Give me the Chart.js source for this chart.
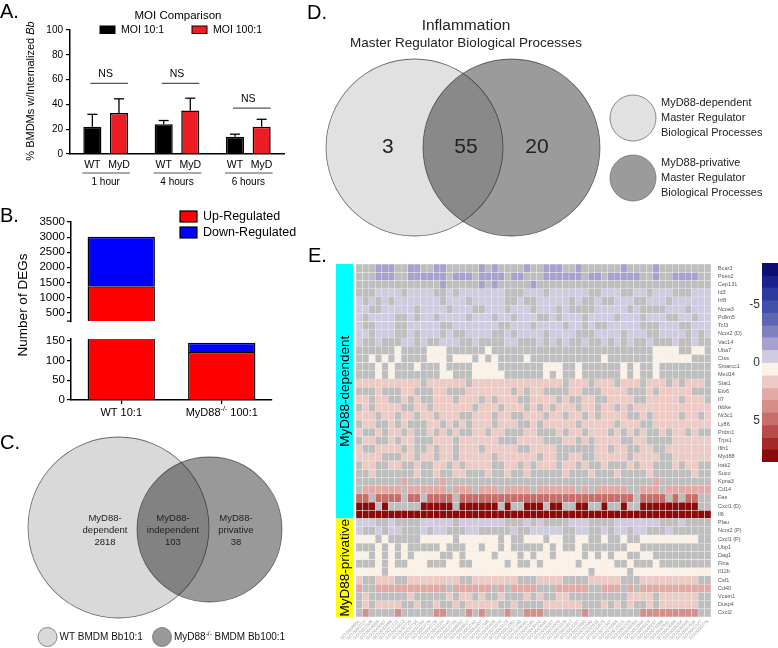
<!DOCTYPE html>
<html>
<head>
<meta charset="utf-8">
<title>MyD88 figure</title>
<script src="https://cdn.jsdelivr.net/npm/chart.js@4.4.1/dist/chart.umd.min.js"></script>
<style>
  html, body { margin: 0; padding: 0; background: #fff; overflow: hidden; }
  #fig { position: relative; width: 778px; height: 648px; overflow: hidden;
         font-family: 'Liberation Sans', Arial, sans-serif; color: #000; }
  #fig canvas { position: absolute; }
  .tag { position: absolute; font-size: 20px; line-height: 1; }
  .ytitle { position: absolute; white-space: nowrap; transform: translate(-50%, -50%) rotate(-90deg); }
</style>
</head>
<body>
<div id="fig">
  <canvas id="chartA" width="290" height="195" style="left:0;top:0"></canvas>
  <canvas id="chartBTop" width="300" height="140" style="left:0;top:190px"></canvas>
  <canvas id="chartBBottom" width="300" height="100" style="left:0;top:330px"></canvas>
  <canvas id="chartC" width="300" height="223" style="left:0;top:425px"></canvas>
  <canvas id="chartD" width="478" height="245" style="left:300px;top:0"></canvas>
  <canvas id="chartE" width="445" height="408" style="left:300px;top:240px"></canvas>
  <canvas id="chartScale" width="60" height="240" style="left:735px;top:240px"></canvas>
  <div class="tag" style="left:0;top:1px">A.</div>
  <div class="tag" style="left:0;top:205px">B.</div>
  <div class="tag" style="left:0;top:432px">C.</div>
  <div class="tag" style="left:307px;top:2px">D.</div>
  <div class="tag" style="left:308px;top:245px">E.</div>
  <div class="ytitle" style="left:22px;top:305px;font-size:13.5px">Number of DEGs</div>
</div>
<script>
// ---- A: internalisation ----
const timeGroups = ['1 hour', '4 hours', '6 hours'];
const strainLabels = ['WT', 'MyD'];
const moi10Mean = [22, 24, 14];
const moi10Err = [10, 3, 2];
const moi100Mean = [33, 35, 22];
const moi100Err = [11.5, 10, 6];
const nsLevel = [57, 57, 37];

// ---- B: DEG counts ----
const degGroups = ['WT 10:1', 'MyD88-/- 100:1'];
const upRegulated = [1375, 122];
const downRegulated = [1635, 23];
const degTicksUpper = [500, 1000, 1500, 2000, 2500, 3000, 3500];
const degTicksLower = [0, 50, 100, 150];

// ---- C: DEG venn ----
const vennCSets = ['WT BMDM Bb10:1', 'MyD88-/- BMDM Bb100:1'];
const vennCRegions = ['MyD88-dependent', 'MyD88-independent', 'MyD88-privative'];
const vennCCounts = [2818, 103, 38];

// ---- D: master regulator venn ----
const vennDTitle = ['Inflammation', 'Master Regulator Biological Processes'];
const vennDCounts = [3, 55, 20];
const vennDSets = [
  ['MyD88-dependent', 'Master Regulator', 'Biological Processes'],
  ['MyD88-privative', 'Master Regulator', 'Biological Processes']
];

// ---- E: heatmap ----
const genes = ['Bcar3', 'Psen2', 'Cep131', 'Id3', 'Irf8', 'Ncoa3', 'Pdlim5', 'Tcf3', 'Ncor2 (D)', 'Vac14',
  'Uba7', 'Ctss', 'Smarcc1', 'Med14', 'Stat1', 'Etv6', 'Il7', 'Ikbke', 'Nr3c1', 'Ly86', 'Prdm1', 'Trps1',
  'Ifih1', 'Myd88', 'Irak2', 'Suco', 'Kpna3', 'Cd14', 'Fas', 'Cxcl1 (D)', 'Il6',
  'Plau', 'Ncor2 (P)', 'Cxcl1 (P)', 'Ubp1', 'Dag1', 'Flna', 'Il12b', 'Csf1', 'Cd40', 'Vcam1', 'Dusp4', 'Cxcl2'];
const geneGroupNames = ['MyD88-dependent', 'MyD88-privative'];
const geneGroupSizes = [31, 12];
const goTerms = ['GO:0006954', 'GO:0050727', 'GO:0002526', 'GO:0006955', 'GO:0045087', 'GO:0032496',
  'GO:0071222', 'GO:0034612', 'GO:0032729', 'GO:0032755', 'GO:0032760', 'GO:0050729', 'GO:0050728',
  'GO:0002224', 'GO:0034142', 'GO:0002755', 'GO:0006952', 'GO:0009617', 'GO:0042742', 'GO:0051607',
  'GO:0071346', 'GO:0035458', 'GO:0070374', 'GO:0043123', 'GO:0051092', 'GO:0007249', 'GO:0038061',
  'GO:0000165', 'GO:0043410', 'GO:0045944', 'GO:0006357', 'GO:0010628', 'GO:0001819', 'GO:0001817',
  'GO:0002237', 'GO:0032680', 'GO:0032640', 'GO:0032635', 'GO:0032675', 'GO:0071347', 'GO:0070555',
  'GO:0019221', 'GO:0060326', 'GO:0030593', 'GO:0002544', 'GO:0090023', 'GO:0048247', 'GO:0070098',
  'GO:0042981', 'GO:0043066', 'GO:0008284', 'GO:0030335', 'GO:0001934', 'GO:0042127', 'GO:0050776'];
// one string per gene, one letter per GO term ('.' = not significant)
const cellRows = [
  '...bbb..bb' + '..bb.....b' + '.b....b..b' + 'bb..b.....' + '.b....b...' + '.....',
  '...bbb..bb' + 'bbbb.bbb.b' + 'bbb.bb...b' + 'bbbbb.bb.b' + 'bbbb..b..b' + 'bbb..',
  '..........' + '...b.....b' + '.b.....b..' + '..........' + '..........' + '.....',
  '...llll.ll' + 'll..l.llll' + 'lll...lll.' + 'llllll..ll' + 'l..ll.lll.' + '..lll',
  'l.l.l.llll' + 'lll.lll.ll' + 'lll..l..ll' + 'lll.l..l..' + 'lll..lll.l' + 'lllll',
  'll..lllll.' + 'llll.lll..' + 'lll.lll.ll' + 'l.l....lll' + 'll.l....ll' + 'l.lll',
  'l.llll..l.' + 'll.llll.ll' + 'l.ll.lll..' + 'l.lll.llll' + '.lll.lll..' + 'll.ll',
  'l..lll..ll' + 'lll..lllll' + 'll..lll.ll' + 'll.ll.l..l' + 'llll...lll' + '..lll',
  'll.lll..l.' + 'lll.l..lll' + 'l..l.llll.' + 'llll...lll' + 'l.lll..lll' + 'l.l.l',
  'l..l...ll.' + 'l..lll..l.' + '...ll...l.' + 'l.l..l..l.' + 'l.l..l...l' + '..l..',
  '......c...' + '.ccc......' + 'c.........' + '..........' + '......cccc' + '..cc.',
  '..c.c.c...' + '.ccc.ccc.c' + '.c....c...' + '........c.' + '......cccc' + 'cc...',
  '...c.c...c' + '...c....cc' + 'cc.......c' + 'cc..c.....' + '.c.c..c...' + '.....',
  '...c.c....' + '...cc...cc' + 'ccc......c' + '.c..c.....' + '.c.c..c...' + '.....',
  'pppppppppp' + '.pppppp.pp' + 'pppppppppp' + 'pp.ppp.ppp' + '.ppp.ppp.p' + '.ppp.',
  '...p...pp.' + '..pp...ppp' + 'pppp.p.pp.' + '...pp...pp' + 'pp...p.ppp' + 'pp...',
  'pp.pp..p.p' + '..ppp.ppp.' + 'p.ppp..ppp' + 'p.p..pp..p' + 'ppp..ppppp' + '.ppp.',
  '.p.pppp..p' + 'p.pppppp.p' + 'pp.ppp.p.p' + '.ppp.pp.pp' + '.p.ppppppp' + 'ppppp',
  'ppp.pp.pp.' + 'pp.ppp..pp' + 'p.pp..ppp.' + 'pp.pp.p.pp' + 'pp..p.pppp' + '.pp.p',
  '.pp..p.p..' + '.pp.p.p.pp' + 'p.ppp..p.p' + 'pppp.ppppp' + '.ppp..pppp' + 'ppppp',
  'p..p.pp.p.' + '.p.p.p..pp' + '.pp...pp..' + '.p.pp.ppp.' + 'p.p.p..p.p' + 'p.p..',
  '.pp..p.pp.' + '..ppp.pppp' + 'pp...pppp.' + '..pp.p.ppp' + 'p..pp....p' + 'ppppp',
  'p..pppp.p.' + '.p.pp.ppp.' + 'ppppp..ppp' + 'p......pp.' + 'pp..pp..pp' + 'ppppp',
  'pppp...pp.' + 'pp.pp.pppp' + 'p.pppppp.p' + 'p..pp..ppp' + 'pp.pppp..p' + 'ppppp',
  '.pp..pp..p' + '..pp.p.ppp' + 'p..pp.p.pp' + 'p.pp.p..p.' + '..p.pp...p' + '.pp..',
  '..p......p' + '..p..pp...' + 'p..p..p...' + '..p...p...' + 'p....p....' + '..p..',
  '.......q..' + '...q......' + '..........' + '..........' + '......q...' + '.....',
  '.qqqqqq.qq' + 'qqqq.qqq.q' + 'qq.qqqq.qq' + 'qqqq.q.qqq' + 'qq..qqq.qq' + 'qqqqq',
  'rr.rrrr.rr' + '.rrrr.rrrr' + 'rrrrrrrrrr' + 'rrrrrrrrrr' + 'rrr.rrrr.r' + '.rr..',
  'ddd.d.....' + 'ddddd.dddd' + 'dd.d..ddd.' + 'dd..dd..d.' + '.d..dddddd' + 'ddd..',
  'DDDDDDDDDD' + 'DDDDDDDDDD' + 'DDDDDDDDDD' + 'DDDDDDDDDD' + 'DDDDDDDDDD' + 'DDDDD',
  'lll..l....' + 'lllll.llll' + 'lll...l.l.' + '...lll....' + 'lllllll...' + 'l....',
  'l..l.ll...' + 'l.ll...ll.' + '....l..lll' + 'll..ll..l.' + 'll.ll...l.' + '.....',
  'ccc.c.....' + 'ccccc.cccc' + 'cc.c..ccc.' + 'cc..cc..c.' + '.c..cccccc' + 'ccc..',
  '...c.c.c..' + '...c...cc.' + 'cc.c.....c' + '.c..c.....' + '..cc......' + '.....',
  'cc.c.c.c.c' + 'ccc..c.ccc' + 'c.ccc.c.cc' + '.cccc.c.c.' + 'cc..cc....' + '.....',
  '...c.c..cc' + 'c...cc..cc' + 'ccc.c..c.c' + 'cccc.ccccc' + '..c...c...' + '.....',
  'cccc.ccccc' + 'cccccccccc' + 'cccccccccc' + 'cccccc.ccc' + 'cc.ccccccc' + 'ccccc',
  'p..ppp..pp' + 'pppppp..pp' + 'ppppp...pp' + 'pp....pppp' + 'p...pppppp' + 'ppp..',
  'q..qqqqqqq' + 'qqqq.qqqqq' + 'q.q.qqqq..' + '.qqqqq..qq' + 'q.q.qqqqqq' + 'qqqqq',
  '.p......p.' + '....p.pp.p' + '..p...p.p.' + '.pp.......' + '..pppp.ppp' + 'ppp..',
  '.p.pppp..p' + '..p..p.ppp' + 'pp..p....p' + 'ppppp...p.' + 'p.p..p.ppp' + 'ppp..',
  '.s....s...' + '..ss...s.s' + '...s..sss.' + '.....s....' + '....ssssss' + 'sss..'
];
// approximate fold-change read for each colour class
const levelOf = { b: -2, l: -0.5, c: 0.4, p: 1.5, q: 2.5, s: 3.5, r: 4.5, d: 7.8, D: 8.3 };
const scaleBreaks = [-8.6, -7.5, -6.5, -5.4, -4.3, -3.2, -2.2, -1.1, 0, 1.1, 2.2, 3.2, 4.3, 5.4, 6.5, 7.5, 8.6];
const scaleTicks = [-5, 0, 5];

// ---------------------------------------------------------------
const FAMILY = "'Liberation Sans', Arial, sans-serif";
Chart.defaults.font.family = FAMILY;
Chart.defaults.color = '#000';
Chart.defaults.animation = false;
Chart.defaults.responsive = false;
Chart.defaults.events = [];
Chart.defaults.plugins.legend.display = false;
Chart.defaults.plugins.tooltip.enabled = false;

const scaleColors = ['#0d0d73', '#1a2290', '#2b3a9e', '#4150a8', '#5f66b1', '#7f80bd', '#a6a2cf', '#d1cbe1',
  '#fbf1e6', '#eecac4', '#e2aaa5', '#d58e8a', '#c76e6b', '#b64d4b', '#a22b2a', '#8b0b0b'];
const naGray = '#bebebe';
const axisLine = { color: '#000', width: 1.5 };
const tickMarks = { drawOnChartArea: false, tickLength: 4, color: '#000', lineWidth: 1.2 };
const plainNumber = v => String(v);

function fixWidth(w) { return s => { s.width = w; }; }
function fixHeight(h) { return s => { s.height = h; }; }

function put(ctx, str, x, y, size, o) {
  o = o || {};
  ctx.save();
  ctx.font = (o.style ? o.style + ' ' : '') + size + 'px ' + FAMILY;
  ctx.fillStyle = o.color || '#000';
  ctx.textAlign = o.align || 'center';
  ctx.textBaseline = 'middle';
  ctx.fillText(str, x, y);
  ctx.restore();
}

// draws "-/-" as a superscript
function putSup(ctx, str, x, y, size, o) {
  o = o || {};
  const segs = [];
  str.split('-/-').forEach((p, i) => {
    if (i) segs.push({ t: '-/-', sup: true });
    if (p) segs.push({ t: p, sup: false });
  });
  ctx.save();
  ctx.fillStyle = o.color || '#000';
  ctx.textBaseline = 'middle';
  ctx.textAlign = 'left';
  let w = 0;
  segs.forEach(s => {
    ctx.font = (s.sup ? size * 0.65 : size) + 'px ' + FAMILY;
    s.w = ctx.measureText(s.t).width;
    w += s.w;
  });
  let cx = o.align === 'left' ? x : x - w / 2;
  segs.forEach(s => {
    ctx.font = (s.sup ? size * 0.65 : size) + 'px ' + FAMILY;
    ctx.fillText(s.t, cx, s.sup ? y - size * 0.32 : y);
    cx += s.w;
  });
  ctx.restore();
}

function line(ctx, x1, y1, x2, y2, color, width) {
  ctx.save();
  ctx.strokeStyle = color;
  ctx.lineWidth = width;
  ctx.beginPath();
  ctx.moveTo(x1, y1);
  ctx.lineTo(x2, y2);
  ctx.stroke();
  ctx.restore();
}

function disc(ctx, x, y, r, fill) {
  ctx.save();
  ctx.beginPath();
  ctx.arc(x, y, r, 0, Math.PI * 2);
  ctx.fillStyle = fill;
  ctx.fill();
  ctx.strokeStyle = '#6e6e6e';
  ctx.lineWidth = 0.8;
  ctx.stroke();
  ctx.restore();
}

// ---- A ----
const panelAExtras = {
  id: 'panelAExtras',
  afterDatasetsDraw(chart) {
    const ctx = chart.ctx, y = chart.scales.y, area = chart.chartArea;
    const metas = [chart.getDatasetMeta(0), chart.getDatasetMeta(1)];
    const errs = [moi10Err, moi100Err];
    chart.data.datasets.forEach((ds, i) => {
      metas[i].data.forEach((bar, j) => {
        const top = y.getPixelForValue(ds.data[j] + errs[i][j]);
        line(ctx, bar.x, bar.y, bar.x, top, '#000', 1.3);
        line(ctx, bar.x - 5, top, bar.x + 5, top, '#000', 1.3);
      });
    });
    timeGroups.forEach((g, j) => {
      const a = metas[0].data[j], b = metas[1].data[j];
      const ny = y.getPixelForValue(nsLevel[j]);
      line(ctx, a.x - 2, ny, b.x + 9, ny, '#555', 1.2);
      put(ctx, 'NS', (a.x + b.x) / 2, ny - 9, 10.5);
      put(ctx, strainLabels[0], a.x, area.bottom + 11, 10.5);
      put(ctx, strainLabels[1], b.x, area.bottom + 11, 10.5);
      const ly = area.bottom + 19;
      line(ctx, a.x - a.width / 2 - 1, ly, b.x + b.width / 2 + 2, ly, '#555', 1.2);
      put(ctx, g, (a.x + b.x) / 2, area.bottom + 28, 10);
    });
    // legend
    put(ctx, 'MOI Comparison', 178, 16, 11.5);
    const lx = [100, 192];
    chart.data.datasets.forEach((ds, i) => {
      ctx.save();
      ctx.fillStyle = ds.backgroundColor;
      ctx.fillRect(lx[i], 26, 15, 7.5);
      ctx.strokeStyle = '#000';
      ctx.lineWidth = 1;
      ctx.strokeRect(lx[i], 26, 15, 7.5);
      ctx.restore();
      put(ctx, ds.label, lx[i] + 21, 30, 10.5, { align: 'left' });
    });
    // y title with italic Bb
    ctx.save();
    ctx.translate(31, 91);
    ctx.rotate(-Math.PI / 2);
    ctx.textBaseline = 'middle';
    ctx.fillStyle = '#000';
    ctx.font = '11px ' + FAMILY;
    const t1 = '% BMDMs w/Internalized ';
    const w1 = ctx.measureText(t1).width;
    ctx.font = 'italic 11px ' + FAMILY;
    const w2 = ctx.measureText('Bb').width;
    ctx.font = '11px ' + FAMILY;
    ctx.fillText(t1, -(w1 + w2) / 2, 0);
    ctx.font = 'italic 11px ' + FAMILY;
    ctx.fillText('Bb', -(w1 + w2) / 2 + w1, 0);
    ctx.restore();
  }
};

new Chart(document.getElementById('chartA'), {
  type: 'bar',
  data: {
    labels: timeGroups,
    datasets: [
      { label: 'MOI 10:1', data: moi10Mean, backgroundColor: '#000000' },
      { label: 'MOI 100:1', data: moi100Mean, backgroundColor: '#ee1c24' }
    ]
  },
  options: {
    layout: { padding: { top: 30, right: 6, left: 0, bottom: 0 } },
    datasets: { bar: { borderColor: '#000', borderWidth: 1.5, categoryPercentage: 0.746, barPercentage: 0.68 } },
    scales: {
      x: { grid: { display: false }, ticks: { display: false }, border: axisLine, afterFit: fixHeight(41) },
      y: { min: 0, max: 100, ticks: { stepSize: 20, font: { size: 10 }, padding: 3, callback: plainNumber },
           grid: tickMarks, border: axisLine, afterFit: fixWidth(70) }
    }
  },
  plugins: [panelAExtras]
});

// ---- B ----
const degDatasets = () => [
  { label: 'Up-Regulated', data: upRegulated, backgroundColor: '#ff0000' },
  { label: 'Down-Regulated', data: downRegulated, backgroundColor: '#0000ff' }
];
const degBar = { borderColor: '#000', borderWidth: 1.5, categoryPercentage: 1, barPercentage: 0.67 };

const panelBTopExtras = {
  id: 'panelBTopExtras',
  afterDraw(chart) {
    const ctx = chart.ctx, area = chart.chartArea;
    line(ctx, area.left - 4, area.bottom, area.left, area.bottom, '#000', 1.2);
    chart.data.datasets.forEach((ds, i) => {
      const y0 = 21 + i * 16;
      ctx.save();
      ctx.fillStyle = ds.backgroundColor;
      ctx.fillRect(180, y0, 17, 11);
      ctx.strokeStyle = '#000';
      ctx.lineWidth = 1.2;
      ctx.strokeRect(180, y0, 17, 11);
      ctx.restore();
      put(ctx, ds.label, 203, y0 + 5.5, 12.5, { align: 'left' });
    });
  }
};

new Chart(document.getElementById('chartBTop'), {
  type: 'bar',
  data: { labels: degGroups, datasets: degDatasets() },
  options: {
    layout: { padding: { top: 32, right: 28, bottom: 3, left: 0 } },
    datasets: { bar: degBar },
    scales: {
      x: { stacked: true, display: false },
      y: { stacked: true, min: 220, max: 3500,
           afterBuildTicks: s => { s.ticks = degTicksUpper.map(v => ({ value: v })); },
           ticks: { font: { size: 11.5 }, padding: 2, callback: plainNumber },
           grid: tickMarks, border: axisLine, afterFit: fixWidth(71) }
    }
  },
  plugins: [panelBTopExtras]
});

const panelBBottomExtras = {
  id: 'panelBBottomExtras',
  afterDraw(chart) {
    const meta = chart.getDatasetMeta(0);
    meta.data.forEach((bar, i) => {
      putSup(chart.ctx, degGroups[i], bar.x, chart.chartArea.bottom + 13, 11);
    });
  }
};

new Chart(document.getElementById('chartBBottom'), {
  type: 'bar',
  data: { labels: degGroups, datasets: degDatasets() },
  options: {
    layout: { padding: { top: 8, right: 28, bottom: 0, left: 0 } },
    datasets: { bar: degBar },
    scales: {
      x: { stacked: true, ticks: { display: false }, grid: Object.assign({ offset: false }, tickMarks),
           border: axisLine, afterFit: fixHeight(30) },
      y: { stacked: true, min: 0, max: 155,
           afterBuildTicks: s => { s.ticks = degTicksLower.map(v => ({ value: v })); },
           ticks: { font: { size: 11.5 }, padding: 2, callback: plainNumber },
           grid: tickMarks, border: axisLine, afterFit: fixWidth(71) }
    }
  },
  plugins: [panelBBottomExtras]
});

// ---- Venn helpers ----
const multiplyBlend = {
  id: 'multiplyBlend',
  beforeDatasetsDraw(chart) { chart.ctx.save(); chart.ctx.globalCompositeOperation = 'multiply'; },
  afterDatasetsDraw(chart) { chart.ctx.restore(); }
};
function unitRadius(chart, r) {
  const s = chart.scales.x;
  const px = s.getPixelForValue(r) - s.getPixelForValue(0);
  return isFinite(px) && px > 0 ? px : 0;
}
function vennScales(w, h, ox, oy, unit) {
  return {
    x: { display: false, min: -ox / unit, max: (w - ox) / unit },
    y: { display: false, min: -(h - oy) / unit, max: oy / unit }
  };
}

// ---- C ----
const cCircles = [{ x: 0, y: 0, r: 1 }, { x: 1.0055, y: -0.022, r: 0.801 }];
const cLabelX = [-0.149, 0.602, 1.298];
const panelCExtras = {
  id: 'panelCExtras',
  afterDraw(chart) {
    const ctx = chart.ctx, xs = chart.scales.x, ys = chart.scales.y;
    vennCRegions.forEach((name, i) => {
      const px = xs.getPixelForValue(cLabelX[i]), py = ys.getPixelForValue(-0.028);
      const lines = name.replace('-', '-\n').split('\n').concat(String(vennCCounts[i]));
      lines.forEach((t, k) => put(ctx, t, px, py + (k - 1) * 12, 9.5, { color: '#222' }));
    });
    const fills = ['#d9d9d9', '#999999'];
    const lx = [47.5, 162];
    vennCSets.forEach((name, i) => {
      disc(ctx, lx[i], 212, 9.5, fills[i]);
      putSup(ctx, name, lx[i] + 12, 212, 10, { align: 'left', color: '#111' });
    });
  }
};

new Chart(document.getElementById('chartC'), {
  type: 'scatter',
  data: { datasets: [{
    data: cCircles.map(c => ({ x: c.x, y: c.y })),
    pointBackgroundColor: ['#d9d9d9', '#999999'],
    pointBorderColor: '#6e6e6e', pointBorderWidth: 0.8,
    pointRadius: c => unitRadius(c.chart, cCircles[c.dataIndex].r)
  }] },
  options: { layout: { padding: 0 }, scales: vennScales(300, 223, 118.5, 102.5, 90.5) },
  plugins: [multiplyBlend, panelCExtras]
});

// ---- D ----
const dCircles = [{ x: 0, y: 0, r: 1 }, { x: 1.096, y: 0, r: 1 }];
const dLabelX = [-0.3, 0.582, 1.384];
const panelDExtras = {
  id: 'panelDExtras',
  afterDraw(chart) {
    const ctx = chart.ctx, xs = chart.scales.x, ys = chart.scales.y;
    put(ctx, vennDTitle[0], 166, 26, 15.5, { color: '#222' });
    put(ctx, vennDTitle[1], 166, 43, 13.5, { color: '#222' });
    vennDCounts.forEach((n, i) => {
      put(ctx, String(n), xs.getPixelForValue(dLabelX[i]), ys.getPixelForValue(0), 21, { color: '#222' });
    });
    const fills = ['#e1e1e1', '#9b9b9b'];
    vennDSets.forEach((lines, i) => {
      const cy = 118 + i * 60;
      disc(ctx, 333, cy, 23, fills[i]);
      lines.forEach((t, k) => put(ctx, t, 361, cy + (k - 1) * 15, 11, { align: 'left', color: '#222' }));
    });
  }
};

new Chart(document.getElementById('chartD'), {
  type: 'scatter',
  data: { datasets: [{
    data: dCircles.map(c => ({ x: c.x, y: c.y })),
    pointBackgroundColor: ['#e1e1e1', '#9b9b9b'],
    pointBorderColor: '#6e6e6e', pointBorderWidth: 0.8,
    pointRadius: c => unitRadius(c.chart, dCircles[c.dataIndex].r)
  }] },
  options: { layout: { padding: 0 }, scales: vennScales(478, 245, 114.5, 147.5, 88.5) },
  plugins: [multiplyBlend, panelDExtras]
});

// ---- E ----
function cellColor(code) {
  if (!(code in levelOf)) return naGray;
  const v = levelOf[code];
  for (let i = 0; i < scaleColors.length; i++) {
    if (v < scaleBreaks[i + 1]) return scaleColors[i];
  }
  return scaleColors[scaleColors.length - 1];
}

const heatDatasets = cellRows.map((row, r) => {
  const codes = row.padEnd(goTerms.length, '.').slice(0, goTerms.length).split('');
  return {
    label: genes[r],
    data: goTerms.map(() => [r - 0.5, r + 0.5]),
    backgroundColor: codes.map(cellColor),
    borderColor: 'rgba(238,238,238,0.9)', borderWidth: 0.5, borderSkipped: false,
    grouped: false, categoryPercentage: 1, barPercentage: 1
  };
});

const groupBars = {
  id: 'groupBars',
  afterDatasetsDraw(chart) {
    const ctx = chart.ctx, y = chart.scales.y;
    const colors = ['#00ffff', '#ffff00'];
    let start = 0;
    geneGroupNames.forEach((name, i) => {
      const y0 = y.getPixelForValue(start - 0.5);
      const y1 = y.getPixelForValue(start + geneGroupSizes[i] - 0.5);
      ctx.save();
      ctx.fillStyle = colors[i];
      ctx.fillRect(36, y0, 17, y1 - y0);
      ctx.translate(45, (y0 + y1) / 2);
      ctx.rotate(-Math.PI / 2);
      ctx.font = '13.5px ' + FAMILY;
      ctx.fillStyle = '#000';
      ctx.textAlign = 'center';
      ctx.textBaseline = 'middle';
      ctx.fillText(name, 0, 0);
      ctx.restore();
      start += geneGroupSizes[i];
    });
  }
};

new Chart(document.getElementById('chartE'), {
  type: 'bar',
  data: { labels: goTerms, datasets: heatDatasets },
  options: {
    layout: { padding: { left: 56, top: 24, right: 0, bottom: 0 } },
    scales: {
      x: { grid: { display: false, drawTicks: false }, border: { display: false },
           ticks: { autoSkip: false, minRotation: 45, maxRotation: 45, font: { size: 4.5 }, color: '#a0a0a0', padding: 2 },
           afterFit: fixHeight(31) },
      y: { position: 'right', min: -0.5, max: genes.length - 0.5, reverse: true,
           afterBuildTicks: s => { s.ticks = genes.map((g, i) => ({ value: i })); },
           ticks: { autoSkip: false, callback: v => genes[v], font: { size: 5.5 }, color: '#555', padding: 7 },
           grid: { display: false, drawTicks: false }, border: { display: false },
           afterFit: fixWidth(34) }
    }
  },
  plugins: [groupBars]
});

// ---- colour key ----
new Chart(document.getElementById('chartScale'), {
  type: 'bar',
  data: {
    labels: [''],
    datasets: scaleColors.map((c, i) => ({
      data: [[scaleBreaks[i], scaleBreaks[i + 1]]], backgroundColor: c, borderWidth: 0,
      grouped: false, categoryPercentage: 1, barPercentage: 1
    }))
  },
  options: {
    layout: { padding: { left: 0, top: 23, right: 13, bottom: 18 } },
    scales: {
      x: { display: false },
      y: { min: scaleBreaks[0], max: scaleBreaks[scaleBreaks.length - 1], reverse: true,
           afterBuildTicks: s => { s.ticks = scaleTicks.map(v => ({ value: v })); },
           ticks: { font: { size: 12 }, color: '#333', padding: 2 },
           grid: { display: false, drawTicks: false }, border: { display: false },
           afterFit: fixWidth(27) }
    }
  }
});
</script>
</body>
</html>
